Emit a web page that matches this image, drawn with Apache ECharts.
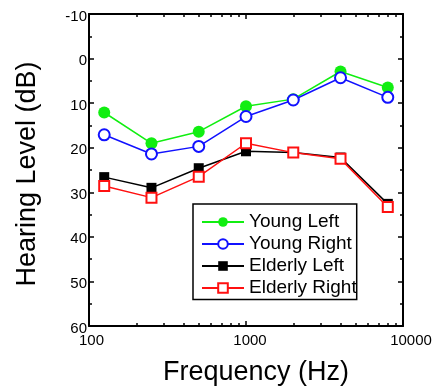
<!DOCTYPE html>
<html>
<head>
<meta charset="utf-8">
<script src="https://cdn.jsdelivr.net/npm/echarts@6/dist/echarts.min.js"></script>
<style>
  html, body { margin: 0; padding: 0; background: #fff; }
  #chart { width: 433px; height: 387px; }
</style>
</head>
<body>
<div id="chart"></div>
<script>
// audiogram: hearing level (dB) per frequency
var freqs = [125, 250, 500, 1000, 2000, 4000, 8000];
var youngLeft = [12.1, 19.0, 16.4, 10.7, 9.1, 2.9, 6.5];
var youngRight = [17.1, 21.4, 19.7, 13.0, 9.3, 4.3, 8.7];
var elderlyLeft = [26.6, 29.0, 24.6, 20.8, 21.1, 22.2, 32.6];
var elderlyRight = [28.6, 31.2, 26.5, 19.0, 21.1, 22.5, 33.3];

var majorFreqTicks = [100, 1000, 10000];
var minorFreqTicks = [200, 300, 400, 500, 600, 700, 800, 900,
    2000, 3000, 4000, 5000, 6000, 7000, 8000, 9000];

function pairs(vals) {
    return freqs.map(function (f, i) { return [f, vals[i]]; });
}

var font = 'Arial, "Liberation Sans", Helvetica, sans-serif';

// labels in the original sit a bit right of their ticks
function tickText(size, left) {
    return { fontSize: size, fontFamily: font, color: '#000', lineHeight: 5, padding: [0, 0, 0, left] };
}

function xAx(pos, ticks, len, withLabel, withLine) {
    return {
        type: 'log',
        logBase: 10,
        position: pos,
        min: 100,
        max: 10000,
        axisLine: { show: withLine, onZero: false, lineStyle: { color: '#000', width: 2 } },
        axisTick: { show: true, inside: true, length: len, customValues: ticks, lineStyle: { color: '#000', width: 1.5 } },
        axisLabel: withLabel ? {
            show: true, customValues: majorFreqTicks, color: '#000', fontSize: 15,
            fontFamily: font, margin: 12.5, lineHeight: 5,
            formatter: function (v) { var k = Math.round(v); return '{t' + k + '|' + k + '}'; },
            rich: { t100: tickText(15, 5), t1000: tickText(15, 8), t10000: tickText(15, 16) }
        } : { show: false },
        splitLine: { show: false },
        minorTick: { show: false },
        name: withLabel ? 'Frequency (Hz)' : '',
        nameLocation: 'middle',
        nameGap: 33.5,
        nameTextStyle: { color: '#000', fontSize: 27, fontFamily: font, padding: [0, 0, 0, 20] }
    };
}

function yAx(pos, withLabel) {
    return {
        type: 'value',
        position: pos,
        inverse: true,
        min: -10,
        max: 60,
        interval: 10,
        axisLine: { show: true, onZero: false, lineStyle: { color: '#000', width: 2 } },
        axisTick: { show: true, inside: true, length: 5, lineStyle: { color: '#000', width: 1.5 } },
        minorTick: { show: true, splitNumber: 2, length: 3, lineStyle: { color: '#000', width: 1.5 } },
        axisLabel: withLabel ? {
            show: true, color: '#000', fontSize: 15, fontFamily: font, margin: 2,
            verticalAlign: 'top', lineHeight: 5
        } : { show: false },
        splitLine: { show: false },
        name: withLabel ? 'Hearing Level (dB)' : '',
        nameLocation: 'middle',
        nameGap: 48,
        nameRotate: 90,
        nameTextStyle: { color: '#000', fontSize: 27, fontFamily: font, padding: [0, 8, 0, 0] }
    };
}

function line(name, vals, color, symbol, size) {
    return {
        name: name,
        type: 'line',
        xAxisIndex: 0,
        yAxisIndex: 0,
        data: pairs(vals),
        symbol: symbol,
        symbolSize: size,
        showAllSymbol: true,
        color: color,
        lineStyle: { color: color, width: 1.5 },
        itemStyle: { color: color, borderWidth: 1.5 }
    };
}

var myChart = echarts.init(document.getElementById('chart'));

var option = {
    animation: false,
    backgroundColor: '#fff',
    grid: { left: 89, top: 14, right: 30, bottom: 61, containLabel: false, outerBoundsMode: 'none' },
    xAxis: [
        xAx('bottom', majorFreqTicks, 5, true, true),
        xAx('bottom', minorFreqTicks, 3, false, false),
        xAx('top', majorFreqTicks, 5, false, true),
        xAx('top', minorFreqTicks, 3, false, false)
    ],
    yAxis: [
        yAx('left', true),
        yAx('right', false)
    ],
    legend: {
        orient: 'vertical',
        left: 193,
        top: 204,
        padding: [8.5, 0, 2, 8],
        itemWidth: 42,
        itemHeight: 12,
        itemGap: 3,
        borderColor: '#000',
        borderWidth: 1.5,
        textStyle: { color: '#000', fontSize: 19, fontFamily: font },
        data: ['Young Left', 'Young Right', 'Elderly Left', 'Elderly Right']
    },
    series: [
        line('Young Left', youngLeft, '#11ee11', 'circle', 12),
        line('Young Right', youngRight, '#1111ff', 'emptyCircle', 11),
        line('Elderly Left', elderlyLeft, '#000000', 'rect', 10),
        line('Elderly Right', elderlyRight, '#ff1010', 'emptyRect', 10)
    ]
};

myChart.setOption(option);
</script>
</body>
</html>
